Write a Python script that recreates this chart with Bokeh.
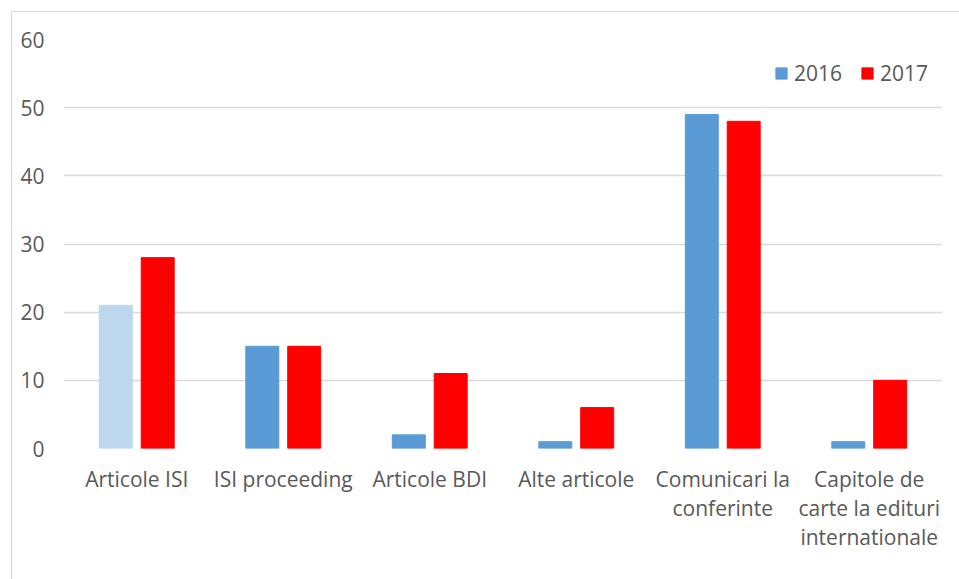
from bokeh.plotting import figure
from bokeh.models import ColumnDataSource, FactorRange, Legend, LegendItem
from bokeh.transform import dodge
from bokeh.embed import file_html
from bokeh.resources import INLINE

categories = ["Articole ISI", "ISI proceeding", "Articole BDI", "Alte articole",
              "Comunicari la\nconferinte", "Capitole de\ncarte la edituri\ninternationale"]
values_2016 = [21, 15, 2, 1, 49, 1]
values_2017 = [28, 15, 11, 6, 48, 10]
colors_2016 = ["#BDD7EE", "#5B9BD5", "#5B9BD5", "#5B9BD5", "#5B9BD5", "#5B9BD5"]
color_2017 = "#FF0000"
series_labels = ["2016", "2017"]

src = ColumnDataSource(dict(cat=categories, v16=values_2016, v17=values_2017, c16=colors_2016))

FONT = "Open Sans"
TXT = "#595959"

p = figure(x_range=FactorRange(*categories), y_range=(0, 60),
           width=948, height=568, output_backend="svg", toolbar_location=None,
           min_border_left=51, min_border_right=18, min_border_top=27, min_border_bottom=132)
p.styles = {"border-left": "1px solid #D9D9D9", "border-top": "1px solid #D9D9D9",
            "margin-left": "11px", "margin-top": "11px"}
p.outline_line_color = None
p.background_fill_color = "white"
p.border_fill_color = "white"

r16 = p.vbar(x=dodge("cat", -0.143, range=p.x_range), top="v16", width=0.225, source=src,
             fill_color="c16", line_color="c16")
r17 = p.vbar(x=dodge("cat", 0.143, range=p.x_range), top="v17", width=0.225, source=src,
             fill_color=color_2017, line_color=color_2017)

p.x_range.range_padding = 0
p.xgrid.grid_line_color = None
p.ygrid.grid_line_color = "#D9D9D9"
p.ygrid.grid_line_width = 1.3
p.yaxis.ticker = [0, 10, 20, 30, 40, 50, 60]

for ax in (p.xaxis, p.yaxis):
    ax.axis_line_color = None
    ax.major_tick_line_color = None
    ax.minor_tick_line_color = None
    ax.major_label_text_font = FONT
    ax.major_label_text_font_size = "21px"
    ax.major_label_text_color = TXT
p.yaxis.major_label_standoff = 13
p.xaxis.major_label_standoff = 10
p.xaxis.major_label_text_line_height = 1.05

legend = Legend(items=[LegendItem(label=series_labels[0], renderers=[r16], index=1),
                       LegendItem(label=series_labels[1], renderers=[r17])],
                orientation="horizontal", location=(711, 361),
                label_text_font=FONT, label_text_font_size="21px", label_text_color=TXT,
                glyph_width=14, glyph_height=14, spacing=18, label_standoff=6,
                background_fill_alpha=0, border_line_color=None,
                margin=0, padding=0)
p.add_layout(legend, "center")

open("out.html", "w").write(file_html(p, INLINE))
